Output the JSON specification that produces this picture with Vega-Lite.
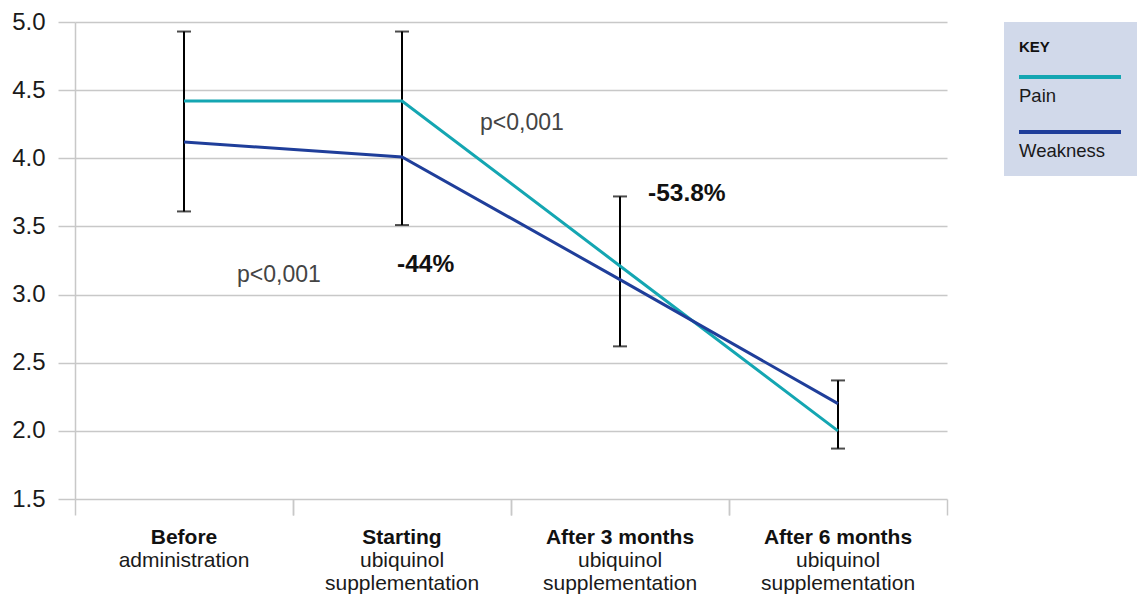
{
  "$schema": "https://vega.github.io/schema/vega-lite/v6.json",
  "width": 872,
  "height": 477,
  "autosize": {"type": "none"},
  "padding": {"left": 75, "top": 22, "right": 190, "bottom": 97},
  "background": "white",
  "config": {
    "font": "Liberation Sans",
    "view": {"stroke": null},
    "axis": {
      "labelFont": "Liberation Sans",
      "labelColor": "#1a1a1a",
      "gridColor": "#c8c8c8",
      "gridWidth": 1.5,
      "domainColor": "#c8c8c8",
      "domainWidth": 1.5,
      "tickColor": "#c8c8c8",
      "tickWidth": 1.5
    },
    "legend": {
      "labelFont": "Liberation Sans",
      "titleFont": "Liberation Sans"
    }
  },
  "datasets": {
    "series": [
      {"time": "Before", "series": "Pain", "value": 4.42},
      {"time": "Starting", "series": "Pain", "value": 4.42},
      {"time": "After 3 months", "series": "Pain", "value": 3.21},
      {"time": "After 6 months", "series": "Pain", "value": 2.0},
      {"time": "Before", "series": "Weakness", "value": 4.12},
      {"time": "Starting", "series": "Weakness", "value": 4.01},
      {"time": "After 3 months", "series": "Weakness", "value": 3.11},
      {"time": "After 6 months", "series": "Weakness", "value": 2.2}
    ],
    "errors": [
      {"time": "Before", "lo": 3.61, "hi": 4.93},
      {"time": "Starting", "lo": 3.51, "hi": 4.93},
      {"time": "After 3 months", "lo": 2.62, "hi": 3.72},
      {"time": "After 6 months", "lo": 1.87, "hi": 2.37}
    ]
  },
  "layer": [
    {
      "data": {"name": "errors"},
      "mark": {"type": "rule", "color": "#000000", "strokeWidth": 2},
      "encoding": {
        "x": {
          "field": "time", "type": "nominal", "title": null,
          "sort": ["Before", "Starting", "After 3 months", "After 6 months"],
          "scale": {"type": "band", "paddingInner": 0, "paddingOuter": 0, "domain": ["Before", "Starting", "After 3 months", "After 6 months"]},
          "axis": {
            "orient": "bottom", "domain": false, "ticks": false, "grid": false,
            "labelAngle": 0, "labelFontSize": 21, "labelLineHeight": 23,
            "labelPadding": 27, "labelBaseline": "top", "labelColor": "#1a1a1a",
            "labelExpr": "datum.value == 'Before' ? ['', 'administration'] : ['', 'ubiquinol', 'supplementation']"
          }
        },
        "y": {"field": "lo", "type": "quantitative", "title": null},
        "y2": {"field": "hi"}
      }
    },
    {
      "data": {"name": "errors"},
      "mark": {"type": "tick", "color": "#000000", "thickness": 2, "size": 14},
      "encoding": {
        "x": {
          "field": "time", "type": "nominal", "title": null,
          "sort": ["Before", "Starting", "After 3 months", "After 6 months"],
          "axis": {
            "orient": "bottom", "domain": false, "labels": false, "grid": false,
            "ticks": true, "tickSize": 16, "bandPosition": 1
          }
        },
        "y": {"field": "lo", "type": "quantitative", "title": null}
      }
    },
    {
      "data": {"name": "errors"},
      "mark": {"type": "tick", "color": "#000000", "thickness": 2, "size": 14},
      "encoding": {
        "x": {
          "field": "time", "type": "nominal", "title": null,
          "sort": ["Before", "Starting", "After 3 months", "After 6 months"],
          "axis": {
            "orient": "bottom", "domain": false, "labels": false, "grid": false,
            "ticks": true, "tickSize": 16, "bandPosition": 0
          }
        },
        "y": {"field": "hi", "type": "quantitative", "title": null}
      }
    },
    {
      "data": {"name": "series"},
      "mark": {"type": "line", "strokeWidth": 3},
      "encoding": {
        "x": {
          "field": "time", "type": "nominal", "title": null,
          "sort": ["Before", "Starting", "After 3 months", "After 6 months"],
          "axis": {
            "orient": "bottom", "domain": false, "ticks": false, "grid": false,
            "labelAngle": 0, "labelFontSize": 21, "labelFontWeight": "bold",
            "labelPadding": 27, "labelBaseline": "top", "labelColor": "#111111"
          }
        },
        "y": {
          "field": "value", "type": "quantitative", "title": null,
          "scale": {"domain": [1.5, 5.0], "nice": false, "zero": false},
          "axis": {
            "values": [1.5, 2.0, 2.5, 3.0, 3.5, 4.0, 4.5, 5.0],
            "format": ".1f", "labelFontSize": 24, "labelPadding": 13,
            "tickSize": 17, "grid": true, "domain": true
          }
        },
        "color": {
          "field": "series", "type": "nominal",
          "scale": {"domain": ["Pain", "Weakness"], "range": ["#14a6b2", "#1f3e9a"]},
          "legend": {
            "orient": "none", "legendX": 929, "legendY": 0,
            "title": "KEY", "fillColor": "#d1d9ea", "padding": 15,
            "titleFontSize": 15, "titleFontWeight": "bold", "titleColor": "#111111",
            "titlePadding": 18, "labelFontSize": 18.5, "labelColor": "#1a1a1a",
            "symbolType": "stroke", "symbolStrokeWidth": 4, "symbolSize": 100,
            "clipHeight": 14, "rowPadding": 19,
            "encode": {
              "entries": {"update": {"width": {"value": 104}}},
              "symbols": {"update": {"size": {"value": 10404}, "x": {"value": 51}}},
              "labels": {"update": {"x": {"value": 0}, "dy": {"value": 19}}},
              "title": {"update": {"dy": {"value": 3}, "fontSize": {"value": 15}}}
            }
          }
        }
      }
    },
    {
      "data": {"values": [{"time": "Starting", "value": 4.26, "label": "p<0,001"}]},
      "mark": {"type": "text", "align": "left", "baseline": "middle", "dx": 78, "fontSize": 23, "color": "#444444"},
      "encoding": {
        "x": {"field": "time", "type": "nominal", "title": null, "sort": ["Before", "Starting", "After 3 months", "After 6 months"], "axis": null},
        "y": {"field": "value", "type": "quantitative", "title": null},
        "text": {"field": "label"}
      }
    },
    {
      "data": {"values": [{"time": "Before", "value": 3.14, "label": "p<0,001"}]},
      "mark": {"type": "text", "align": "left", "baseline": "middle", "dx": 53, "fontSize": 23, "color": "#444444"},
      "encoding": {
        "x": {"field": "time", "type": "nominal", "title": null, "sort": ["Before", "Starting", "After 3 months", "After 6 months"], "axis": null},
        "y": {"field": "value", "type": "quantitative", "title": null},
        "text": {"field": "label"}
      }
    },
    {
      "data": {"values": [{"time": "After 3 months", "value": 3.74, "label": "-53.8%"}]},
      "mark": {"type": "text", "align": "left", "baseline": "middle", "dx": 28, "fontSize": 24.5, "fontWeight": "bold", "color": "#111111"},
      "encoding": {
        "x": {"field": "time", "type": "nominal", "title": null, "sort": ["Before", "Starting", "After 3 months", "After 6 months"], "axis": null},
        "y": {"field": "value", "type": "quantitative", "title": null},
        "text": {"field": "label"}
      }
    },
    {
      "data": {"values": [{"time": "Starting", "value": 3.22, "label": "-44%"}]},
      "mark": {"type": "text", "align": "left", "baseline": "middle", "dx": -5, "fontSize": 24.5, "fontWeight": "bold", "color": "#111111"},
      "encoding": {
        "x": {"field": "time", "type": "nominal", "title": null, "sort": ["Before", "Starting", "After 3 months", "After 6 months"], "axis": null},
        "y": {"field": "value", "type": "quantitative", "title": null},
        "text": {"field": "label"}
      }
    }
  ],
  "resolve": {"axis": {"x": "independent"}}
}
